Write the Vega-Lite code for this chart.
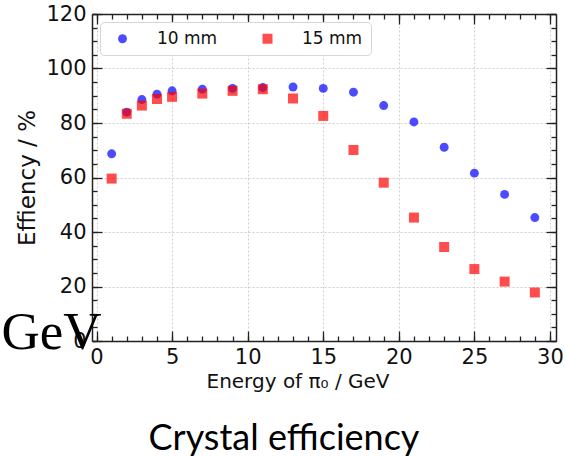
{
  "$schema": "https://vega.github.io/schema/vega-lite/v6.json",
  "width": 464,
  "height": 327,
  "autosize": {"type": "none"},
  "padding": {"left": 92, "top": 14, "right": 10, "bottom": 116},
  "background": "white",
  "title": {"text": "Crystal efficiency", "orient": "bottom", "anchor": "middle", "frame": "group", "font": "Lato", "fontSize": 36, "fontWeight": "normal", "color": "black", "dx": -40, "offset": 31},
  "data": {"values": [
    {"energy": 1, "eff": 68.7, "series": "10 mm"},
    {"energy": 2, "eff": 84.0, "series": "10 mm"},
    {"energy": 3, "eff": 88.6, "series": "10 mm"},
    {"energy": 4, "eff": 90.6, "series": "10 mm"},
    {"energy": 5, "eff": 91.8, "series": "10 mm"},
    {"energy": 7, "eff": 92.4, "series": "10 mm"},
    {"energy": 9, "eff": 92.7, "series": "10 mm"},
    {"energy": 11, "eff": 93.0, "series": "10 mm"},
    {"energy": 13, "eff": 93.2, "series": "10 mm"},
    {"energy": 15, "eff": 92.7, "series": "10 mm"},
    {"energy": 17, "eff": 91.3, "series": "10 mm"},
    {"energy": 19, "eff": 86.4, "series": "10 mm"},
    {"energy": 21, "eff": 80.4, "series": "10 mm"},
    {"energy": 23, "eff": 71.1, "series": "10 mm"},
    {"energy": 25, "eff": 61.6, "series": "10 mm"},
    {"energy": 27, "eff": 53.8, "series": "10 mm"},
    {"energy": 29, "eff": 45.3, "series": "10 mm"},
    {"energy": 1, "eff": 59.6, "series": "15 mm"},
    {"energy": 2, "eff": 83.4, "series": "15 mm"},
    {"energy": 3, "eff": 86.4, "series": "15 mm"},
    {"energy": 4, "eff": 88.8, "series": "15 mm"},
    {"energy": 5, "eff": 89.6, "series": "15 mm"},
    {"energy": 7, "eff": 90.8, "series": "15 mm"},
    {"energy": 9, "eff": 91.8, "series": "15 mm"},
    {"energy": 11, "eff": 92.4, "series": "15 mm"},
    {"energy": 13, "eff": 89.0, "series": "15 mm"},
    {"energy": 15, "eff": 82.6, "series": "15 mm"},
    {"energy": 17, "eff": 70.1, "series": "15 mm"},
    {"energy": 19, "eff": 58.1, "series": "15 mm"},
    {"energy": 21, "eff": 45.3, "series": "15 mm"},
    {"energy": 23, "eff": 34.5, "series": "15 mm"},
    {"energy": 25, "eff": 26.4, "series": "15 mm"},
    {"energy": 27, "eff": 21.8, "series": "15 mm"},
    {"energy": 29, "eff": 17.8, "series": "15 mm"}
  ]},
  "resolve": {"axis": {"x": "independent", "y": "independent"}},
  "config": {
    "view": {"stroke": null},
    "axis": {
      "labelFont": "DejaVu Sans", "labelFontSize": 21, "labelColor": "#111",
      "titleFont": "DejaVu Sans", "titleFontSize": 20, "titleFontWeight": "normal", "titleColor": "#111",
      "domainColor": "#222", "domainWidth": 1.5, "tickColor": "#222", "tickWidth": 1.3,
      "gridColor": "#c8c8c8", "gridDash": [2, 2], "gridWidth": 0.9,
      "labelFlush": false, "labelOverlap": false
    }
  },
  "layer": [
    {
      "mark": {"type": "point", "filled": true, "opacity": 0.7},
      "encoding": {
        "x": {"field": "energy", "type": "quantitative",
          "scale": {"domain": [-0.3, 30.4], "nice": false, "zero": false},
          "axis": {"orient": "bottom", "values": [0, 5, 10, 15, 20, 25, 30], "ticks": false, "grid": true, "domain": true, "labelPadding": 5, "title": "Energy of π₀ / GeV", "titleX": 205.5, "titlePadding": 4}},
        "y": {"field": "eff", "type": "quantitative",
          "scale": {"domain": [0, 120], "nice": false, "zero": false},
          "axis": {"orient": "left", "values": [0, 20, 40, 60, 80, 100, 120], "ticks": false, "grid": true, "domain": true, "labelPadding": 6, "title": "Effiency / %", "titleFontSize": 23, "titlePadding": 6}},
        "color": {"field": "series", "type": "nominal",
          "scale": {"domain": ["10 mm", "15 mm"], "range": ["#0000ff", "#ff0000"]},
          "legend": {"title": null, "orient": "top-left", "offset": 8, "direction": "horizontal", "columns": 2, "fillColor": "white", "strokeColor": "#d6d6d6", "cornerRadius": 4, "padding": 8, "labelFont": "DejaVu Sans", "labelFontSize": 17, "labelColor": "#111", "symbolSize": 80, "symbolOffset": 6, "labelOffset": 26, "columnPadding": 35, "symbolStrokeWidth": 0}},
        "shape": {"field": "series", "type": "nominal",
          "scale": {"domain": ["10 mm", "15 mm"], "range": ["circle", "square"]},
          "legend": {"title": null, "orient": "top-left", "offset": 8, "direction": "horizontal", "columns": 2, "fillColor": "white", "strokeColor": "#d6d6d6", "cornerRadius": 4, "padding": 8, "labelFont": "DejaVu Sans", "labelFontSize": 17, "labelColor": "#111", "symbolSize": 80, "symbolOffset": 6, "labelOffset": 26, "columnPadding": 35, "symbolStrokeWidth": 0}},
        "size": {"field": "series", "type": "ordinal", "scale": {"domain": ["10 mm", "15 mm"], "range": [80, 100]}, "legend": null}
      }
    },
    {
      "mark": {"type": "point", "opacity": 0},
      "encoding": {
        "x": {"field": "energy", "type": "quantitative",
          "scale": {"domain": [-0.3, 30.4], "nice": false, "zero": false},
          "axis": {"orient": "bottom", "values": [0, 5, 10, 15, 20, 25, 30], "labels": false, "grid": false, "domain": false, "ticks": true, "tickSize": -10, "title": null}},
        "y": {"field": "eff", "type": "quantitative",
          "scale": {"domain": [0, 120], "nice": false, "zero": false},
          "axis": {"orient": "left", "values": [0, 20, 40, 60, 80, 100, 120], "labels": false, "grid": false, "domain": false, "ticks": true, "tickSize": -10, "title": null}}
      }
    },
    {
      "mark": {"type": "point", "opacity": 0},
      "encoding": {
        "x": {"field": "energy", "type": "quantitative",
          "scale": {"domain": [-0.3, 30.4], "nice": false, "zero": false},
          "axis": {"orient": "bottom", "values": [0, 1, 2, 3, 4, 5, 6, 7, 8, 9, 10, 11, 12, 13, 14, 15, 16, 17, 18, 19, 20, 21, 22, 23, 24, 25, 26, 27, 28, 29, 30], "labels": false, "grid": false, "domain": false, "ticks": true, "tickSize": -5, "title": null}},
        "y": {"field": "eff", "type": "quantitative",
          "scale": {"domain": [0, 120], "nice": false, "zero": false},
          "axis": {"orient": "left", "values": [0, 5, 10, 15, 20, 25, 30, 35, 40, 45, 50, 55, 60, 65, 70, 75, 80, 85, 90, 95, 100, 105, 110, 115, 120], "labels": false, "grid": false, "domain": false, "ticks": true, "tickSize": -5,
            "title": "GeV", "titleX": -91, "titleY": 334, "titleAngle": 0, "titleAlign": "left", "titleBaseline": "alphabetic", "titleFont": "Liberation Serif", "titleFontSize": 53, "titleFontWeight": "normal", "titleColor": "black"}}
      }
    },
    {
      "mark": {"type": "point", "opacity": 0},
      "encoding": {
        "x": {"field": "energy", "type": "quantitative",
          "scale": {"domain": [-0.3, 30.4], "nice": false, "zero": false},
          "axis": {"orient": "top", "values": [0, 5, 10, 15, 20, 25, 30], "labels": false, "grid": false, "domain": true, "ticks": true, "tickSize": -10, "title": null}},
        "y": {"field": "eff", "type": "quantitative",
          "scale": {"domain": [0, 120], "nice": false, "zero": false},
          "axis": {"orient": "right", "values": [0, 20, 40, 60, 80, 100, 120], "labels": false, "grid": false, "domain": true, "ticks": true, "tickSize": -10, "title": null}}
      }
    },
    {
      "mark": {"type": "point", "opacity": 0},
      "encoding": {
        "x": {"field": "energy", "type": "quantitative",
          "scale": {"domain": [-0.3, 30.4], "nice": false, "zero": false},
          "axis": {"orient": "top", "values": [0, 1, 2, 3, 4, 5, 6, 7, 8, 9, 10, 11, 12, 13, 14, 15, 16, 17, 18, 19, 20, 21, 22, 23, 24, 25, 26, 27, 28, 29, 30], "labels": false, "grid": false, "domain": false, "ticks": true, "tickSize": -5, "title": null}},
        "y": {"field": "eff", "type": "quantitative",
          "scale": {"domain": [0, 120], "nice": false, "zero": false},
          "axis": {"orient": "right", "values": [0, 5, 10, 15, 20, 25, 30, 35, 40, 45, 50, 55, 60, 65, 70, 75, 80, 85, 90, 95, 100, 105, 110, 115, 120], "labels": false, "grid": false, "domain": false, "ticks": true, "tickSize": -5, "title": null}}
      }
    }
  ]
}
